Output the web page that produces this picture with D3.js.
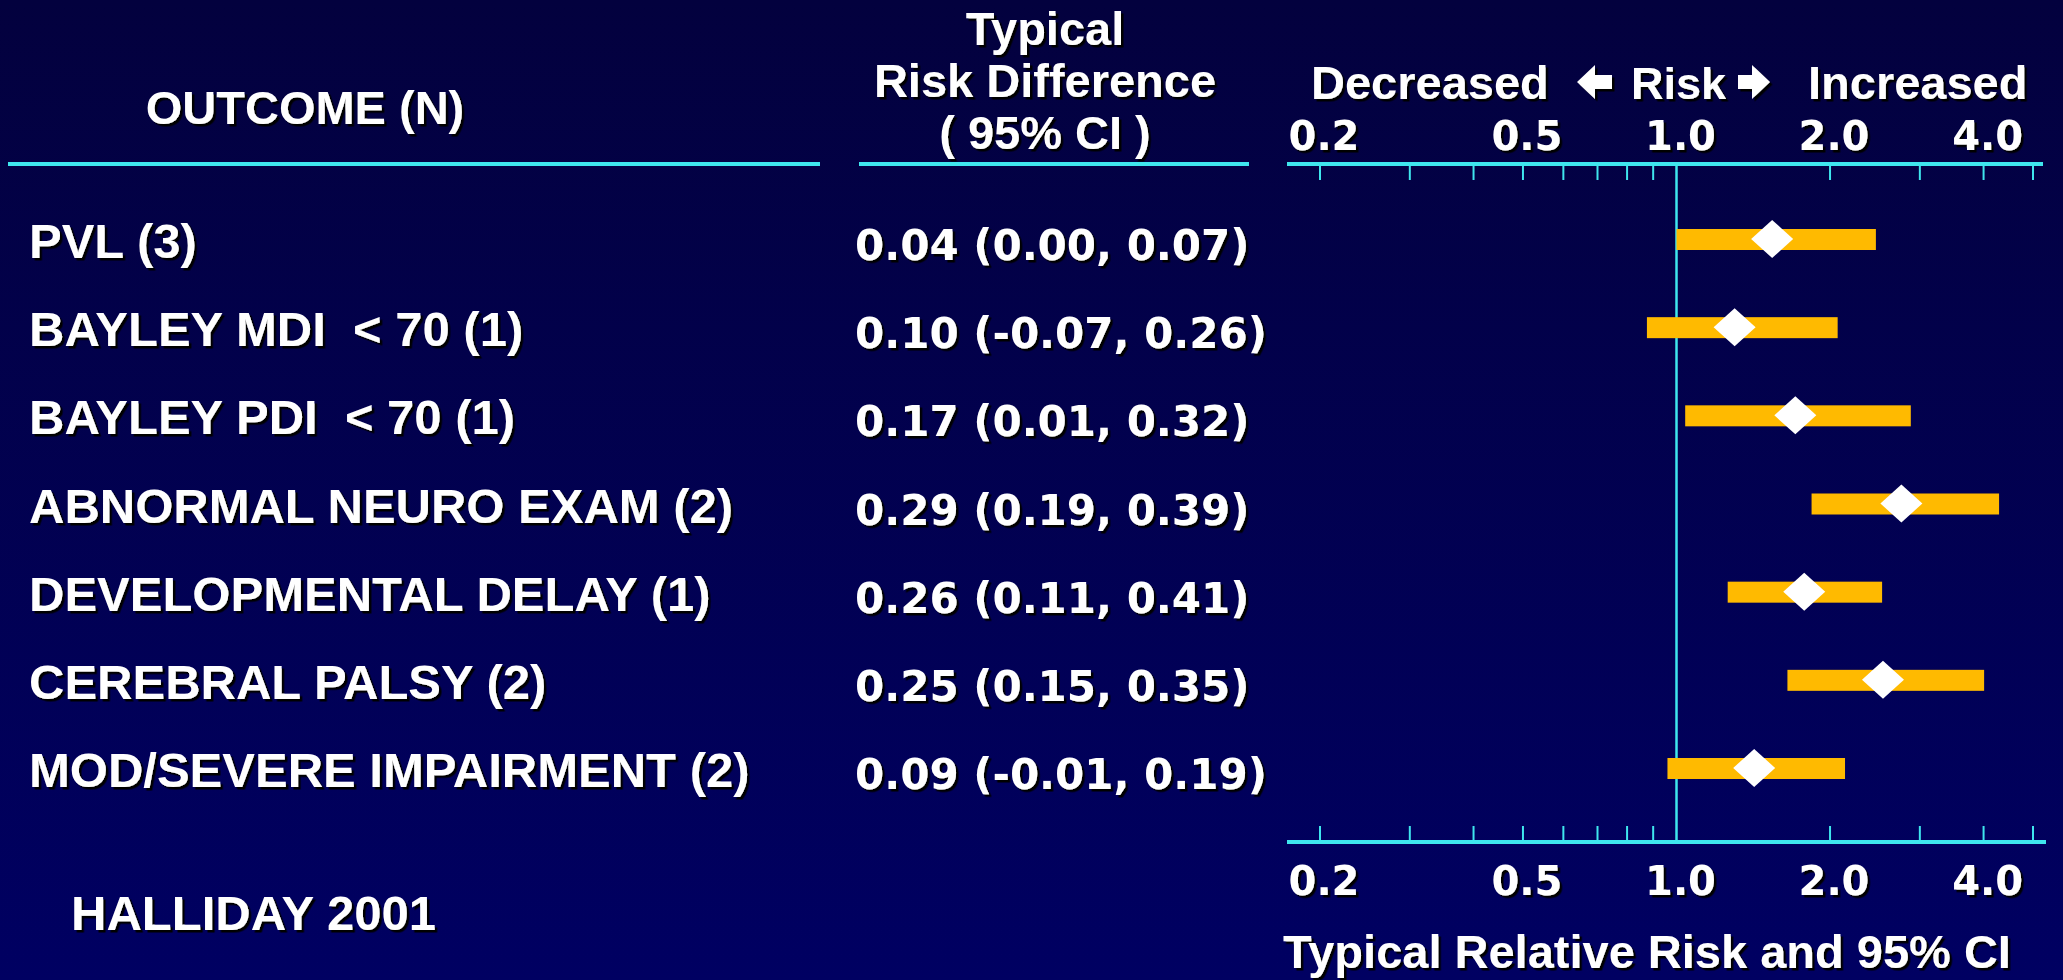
<!DOCTYPE html>
<html><head><meta charset="utf-8">
<script src="https://cdn.jsdelivr.net/npm/d3@7"></script>
<style>
html,body{margin:0;padding:0;background:#000050;overflow:hidden}
text{white-space:pre}
</style></head><body>
<svg id="chart" width="2063" height="980"></svg>
<script>
// ---------------- data ----------------
const outcomes = ["PVL (3)", "BAYLEY MDI  < 70 (1)", "BAYLEY PDI  < 70 (1)", "ABNORMAL NEURO EXAM (2)",
                  "DEVELOPMENTAL DELAY (1)", "CEREBRAL PALSY (2)", "MOD/SEVERE IMPAIRMENT (2)"];
const rdEst = [0.04, 0.10, 0.17, 0.29, 0.26, 0.25, 0.09];
const rdLo  = [0.00, -0.07, 0.01, 0.19, 0.11, 0.15, -0.01];
const rdHi  = [0.07, 0.26, 0.32, 0.39, 0.41, 0.35, 0.19];
const rrEst = [1.54, 1.30, 1.71, 2.76, 1.78, 2.54, 1.42];
const rrLo  = [1.00, 0.875, 1.04, 1.84, 1.26, 1.65, 0.96];
const rrHi  = [2.46, 2.07, 2.88, 4.29, 2.53, 4.01, 2.14];
const minorTicks = [0.2, 0.3, 0.4, 0.5, 0.6, 0.7, 0.8, 0.9, 2, 3, 4, 5];
const tickLabels = [0.2, 0.5, 1, 2, 4];
const headerLeft = "OUTCOME (N)";
const headerMid = ["Typical", "Risk Difference", "( 95% CI )"];
const headerRight = ["Decreased", "Risk", "Increased"];
const axisTitle = "Typical Relative Risk and 95% CI";
const source = "HALLIDAY 2001";

// ---------------- layout ----------------
const W = 2063, H = 980;
const CYAN = "#3FE6EE", GOLD = "#FFBA00";
const SANS = "'Liberation Sans', Arial, sans-serif";
const WIDE = "'DejaVu Sans', Verdana, sans-serif";

const svg = d3.select("#chart");
const defs = svg.append("defs");
const grad = defs.append("linearGradient").attr("id", "bg").attr("x1", 0).attr("y1", 0).attr("x2", 0).attr("y2", 1);
grad.append("stop").attr("offset", "0%").attr("stop-color", "#03013E");
grad.append("stop").attr("offset", "100%").attr("stop-color", "#000062");
const f = defs.append("filter").attr("id", "sh").attr("x", "-10%").attr("y", "-20%").attr("width", "130%").attr("height", "150%");
f.append("feDropShadow").attr("dx", 2.5).attr("dy", 2.5).attr("stdDeviation", 0.4).attr("flood-color", "#000").attr("flood-opacity", 1);

svg.append("rect").attr("width", W).attr("height", H).attr("fill", "url(#bg)");

const x = d3.scaleLog().domain([0.2, 5]).range([1320, 2033]);
const y = d3.scalePoint().domain(outcomes).range([239, 768]);
const axL = 1287, axR = 2043, axTop = 164, axBot = 842;

function txt(g, s, px, py, size, family, anchor) {
  return g.append("text").attr("x", px).attr("y", py).text(s)
    .attr("font-family", family).attr("font-weight", "bold").attr("font-size", size)
    .attr("fill", "#fff").attr("text-anchor", anchor || "start").attr("filter", "url(#sh)");
}

// headers
txt(svg, headerLeft, 305, 124, 47, SANS, "middle");
headerMid.forEach((s, i) => txt(svg, s, 1045, 45 + i * 52, 47, SANS, "middle"));
txt(svg, headerRight[0], 1311, 99, 47, SANS);
txt(svg, headerRight[1], 1631, 99, 45, SANS);
txt(svg, headerRight[2], 1808, 99, 47, SANS);
// block arrows
const arrowL = [[0,17],[18,0],[18,10],[35,10],[35,24],[18,24],[18,34]];
const arrowR = [[32,17],[14,0],[14,10],[0,10],[0,24],[14,24],[14,34]];
svg.append("polygon").attr("points", arrowL.map(p => [p[0] + 1577, p[1] + 65].join(",")).join(" "))
  .attr("fill", "#fff").attr("filter", "url(#sh)");
svg.append("polygon").attr("points", arrowR.map(p => [p[0] + 1738, p[1] + 65].join(",")).join(" "))
  .attr("fill", "#fff").attr("filter", "url(#sh)");

// underlines
svg.append("rect").attr("x", 8).attr("y", axTop - 2).attr("width", 812).attr("height", 4).attr("fill", CYAN);
svg.append("rect").attr("x", 859).attr("y", axTop - 2).attr("width", 390).attr("height", 4).attr("fill", CYAN);

// axes lines
svg.append("rect").attr("x", axL).attr("y", axTop - 2).attr("width", axR - axL).attr("height", 4).attr("fill", CYAN);
svg.append("rect").attr("x", axL).attr("y", axBot - 2).attr("width", axR - axL + 3).attr("height", 4).attr("fill", CYAN);

// ticks
svg.append("g").selectAll("line").data(minorTicks).join("line")
  .attr("x1", d => x(d)).attr("x2", d => x(d)).attr("y1", axTop + 2).attr("y2", axTop + 16)
  .attr("stroke", CYAN).attr("stroke-width", 2);
svg.append("g").selectAll("line").data(minorTicks).join("line")
  .attr("x1", d => x(d)).attr("x2", d => x(d)).attr("y1", axBot - 16).attr("y2", axBot - 2)
  .attr("stroke", CYAN).attr("stroke-width", 2);

// reference line at RR = 1
svg.append("line").attr("x1", x(1)).attr("x2", x(1)).attr("y1", axTop + 2).attr("y2", axBot - 2)
  .attr("stroke", CYAN).attr("stroke-width", 2.5);

// tick labels
const fmt = d3.format(".1f");
tickLabels.forEach(v => {
  txt(svg, fmt(v), x(v) + 4, 150, 40, WIDE, "middle");
  txt(svg, fmt(v), x(v) + 4, 895, 40, WIDE, "middle");
});
txt(svg, axisTitle, 1283, 968, 47, SANS);

// rows
const loc = d3.formatLocale({decimal: ".", thousands: ",", grouping: [3], currency: ["$", ""], minus: "-"});
const f2 = loc.format(".2f");
outcomes.forEach((o, i) => {
  const cy = y(o);
  txt(svg, o, 29, cy + 19, 49, SANS);
  txt(svg, `${f2(rdEst[i])} (${f2(rdLo[i])}, ${f2(rdHi[i])})`, 855, cy + 21, 42, WIDE);
  svg.append("rect").attr("x", x(rrLo[i])).attr("y", cy - 10)
    .attr("width", x(rrHi[i]) - x(rrLo[i])).attr("height", 21).attr("fill", GOLD);
  const px = x(rrEst[i]);
  svg.append("polygon")
    .attr("points", [[px - 21, cy], [px, cy - 19], [px + 21, cy], [px, cy + 19]].map(p => p.join(",")).join(" "))
    .attr("fill", "#fff");
});

txt(svg, source, 71, 930, 49, SANS);
</script>
</body></html>
